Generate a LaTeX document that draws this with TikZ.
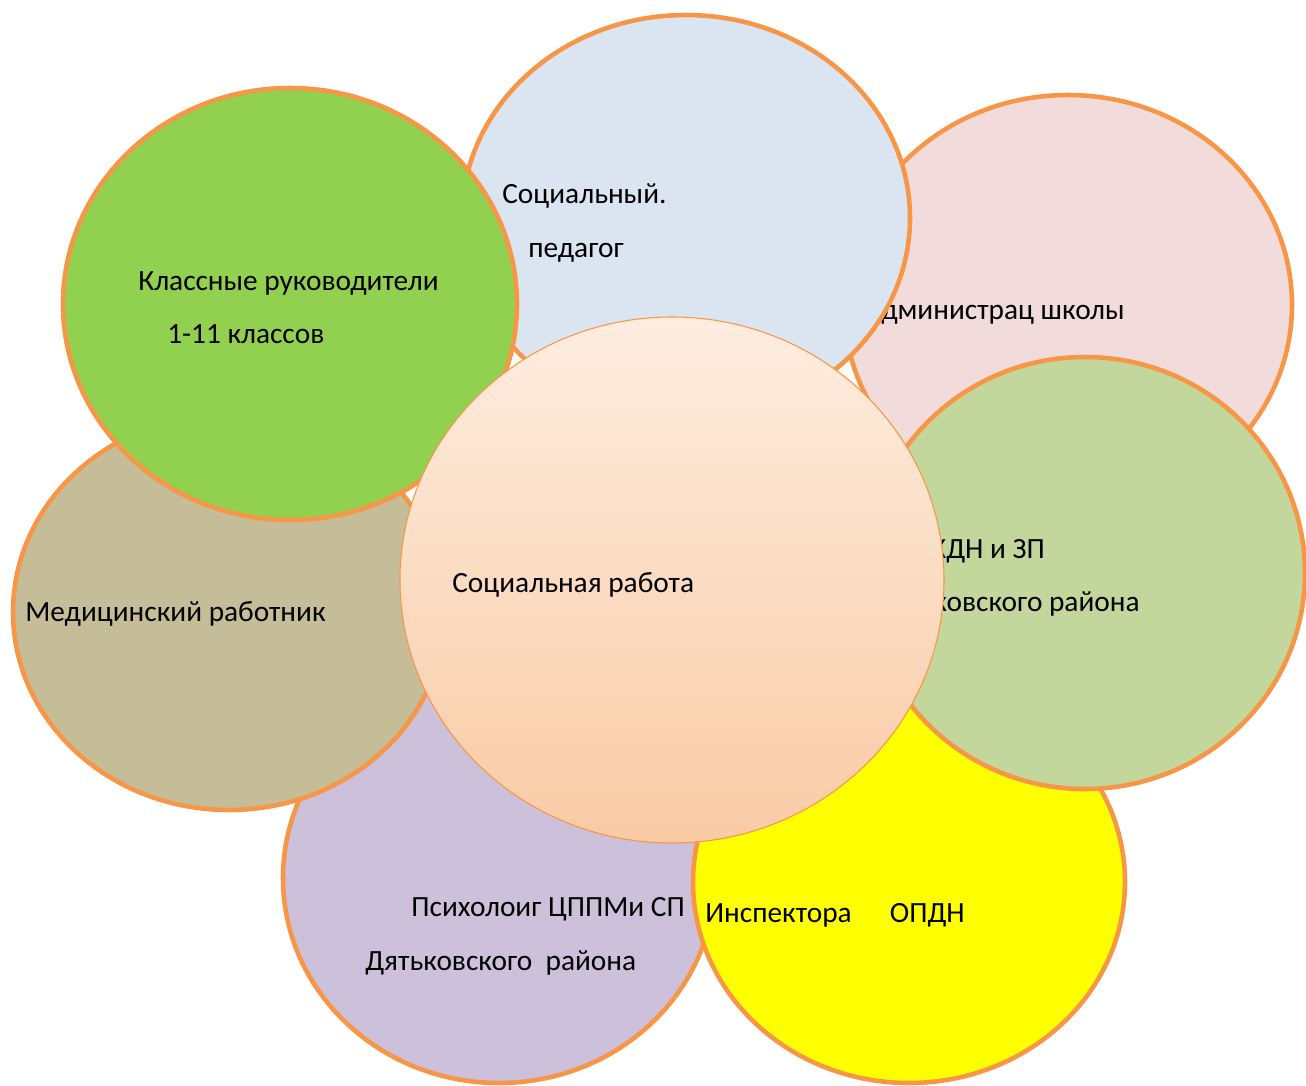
\documentclass[tikz,border=0pt]{standalone}
\usepackage{fontspec}
\setmainfont{Carlito}
\usepackage{tikz}

\definecolor{brd}{HTML}{F79646}
\definecolor{pedblue}{HTML}{DBE5F1}
\definecolor{admpink}{HTML}{F2DCDB}
\definecolor{kdngreen}{HTML}{C3D69B}
\definecolor{inspyellow}{HTML}{FFFF00}
\definecolor{lavend}{HTML}{CCC0DA}
\definecolor{khaki}{HTML}{C4BD97}
\definecolor{klgreen}{HTML}{92D050}
\definecolor{ctop}{HTML}{FDEDE0}
\definecolor{cbot}{HTML}{F9CBA5}

\begin{document}
\begin{tikzpicture}[x=0.02cm, y=-0.02cm,
    bubble/.style={draw=brd, line width=2.6pt},
    lbl/.style={font=\fontsize{16.7}{20}\selectfont, anchor=base west, inner sep=0pt}]
		\useasboundingbox (0,0) rectangle (1306,1086);

		\draw [bubble, fill=lavend] (499,878) ellipse [x radius=216, y radius=205];
		\node [lbl] (psy1) at (411,916) {Психолоиг ЦППМи СП};
		\node [lbl] (psy2) at (365,970) {Дятьковского\ \ района};

		\draw [bubble, fill=inspyellow] (909,882) ellipse [x radius=216, y radius=201];
		\node [lbl] (insp) at (705,922) {Инспектора\hspace{1.3em}ОПДН};

		\draw [bubble, fill=admpink] (1068,305) ellipse [x radius=224, y radius=210];
		\node [lbl, anchor=base east] (adm) at (1125,319) {Администрац школы};

		\draw [bubble, fill=kdngreen] (1085,573) ellipse [x radius=220, y radius=216];
		\node [lbl] (kdn1) at (930,558) {КДН и ЗП};
		\node [lbl, anchor=base east] (kdn2) at (1140,611) {Дятьковского района};

		\draw [bubble, fill=pedblue] (686,218) ellipse [x radius=224, y radius=203];
		\node [lbl] (ped1) at (502,203) {Социальный.};
		\node [lbl] (ped2) at (528,257) {педагог};

		\draw [bubble, fill=khaki] (229,612) ellipse [x radius=216, y radius=198];
		\node [lbl] (med) at (25,621) {Медицинский работник};

		\draw [bubble, fill=klgreen] (290,304) ellipse [x radius=227, y radius=216];
		\node [lbl] (kl1) at (138,290) {Классные руководители};
		\node [lbl] (kl2) at (167,343) {1-11 классов};

		% centre
		\draw [draw=brd, line width=0.6pt, top color=ctop, bottom color=cbot] (672,580) ellipse [x radius=272, y radius=263];
		\node [lbl] (soc) at (452,592) {Социальная работа};
	\end{tikzpicture}
\end{document}
